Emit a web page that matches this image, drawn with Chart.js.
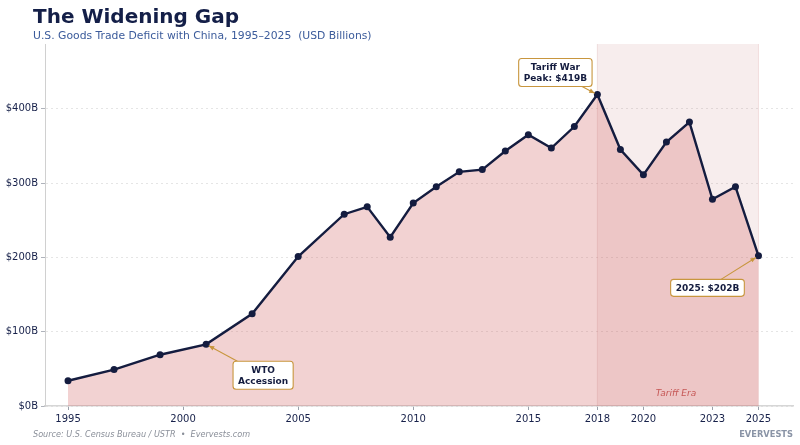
<!DOCTYPE html>
<html>
<head>
<meta charset="utf-8">
<script src="https://cdn.jsdelivr.net/npm/chart.js@4.4.1/dist/chart.umd.min.js"></script>
<style>
  html, body { margin: 0; padding: 0; background: #fff; }
  #wrap { width: 800px; height: 445px; }
</style>
</head>
<body>
<div id="wrap"><canvas id="gapChart"></canvas></div>
<script>
const years = [1995, 1997, 1999, 2001, 2003, 2005, 2007, 2008, 2009, 2010, 2011, 2012, 2013,
  2014, 2015, 2016, 2017, 2018, 2019, 2020, 2021, 2022, 2023, 2024, 2025];
const deficit = [34, 49, 69, 83, 124, 201, 258, 268, 227, 273, 295, 315, 318,
  343, 365, 347, 376, 419, 345, 311, 355, 382, 278, 295, 202];
const xTicks = [1995, 2000, 2005, 2010, 2015, 2018, 2020, 2023, 2025];
const yTicks = [0, 100, 200, 300, 400];
const tariffEra = [2018, 2025];

const NAVY = '#141c3f';
const GOLD = '#c8963e';
const FONT = '"DejaVu Sans", sans-serif';

// annotations: label lines, point year, box offset from the point
const notes = [
  { lines: ['Tariff War', 'Peak: $419B'], year: 2018, dx: -42, dy: -22 },
  { lines: ['WTO', 'Accession'], year: 2001, dx: 57, dy: 31 },
  { lines: ['2025: $202B'], year: 2025, dx: -51, dy: 32 }
];

function valueAt(year) {
  return deficit[years.indexOf(year)];
}

const decorations = {
  id: 'decorations',
  beforeDatasetsDraw(chart) {
    const { ctx, chartArea, scales } = chart;
    const x0 = scales.x.getPixelForValue(tariffEra[0]);
    const x1 = scales.x.getPixelForValue(tariffEra[1]);
    ctx.save();
    ctx.fillStyle = 'rgba(190,110,110,0.12)';
    ctx.fillRect(x0, chartArea.top, x1 - x0, chartArea.bottom - chartArea.top);
    ctx.strokeStyle = 'rgba(190,110,110,0.18)';
    ctx.lineWidth = 1;
    ctx.beginPath();
    ctx.moveTo(x0, chartArea.top); ctx.lineTo(x0, chartArea.bottom);
    ctx.moveTo(x1, chartArea.top); ctx.lineTo(x1, chartArea.bottom);
    ctx.stroke();
    ctx.fillStyle = '#c0504d';
    ctx.font = 'italic 9px ' + FONT;
    ctx.textAlign = 'center';
    ctx.textBaseline = 'alphabetic';
    ctx.fillText('Tariff Era', (x0 + x1) / 2 - 2, chartArea.bottom - 10);
    ctx.restore();
  },
  afterDraw(chart) {
    const { ctx, scales } = chart;
    ctx.save();
    // title block
    ctx.textAlign = 'left';
    ctx.textBaseline = 'alphabetic';
    ctx.fillStyle = '#141f48';
    ctx.font = 'bold 20px ' + FONT;
    ctx.fillText('The Widening Gap', 33, 23);
    ctx.fillStyle = '#3b5b9b';
    ctx.font = '10.8px ' + FONT;
    ctx.fillText('U.S. Goods Trade Deficit with China, 1995\u20132025  (USD Billions)', 33, 39);
    // footer
    ctx.fillStyle = '#8a8f99';
    ctx.font = 'italic 8.1px ' + FONT;
    ctx.fillText('Source: U.S. Census Bureau / USTR  \u2022  Evervests.com', 33, 437);
    ctx.textAlign = 'right';
    ctx.fillStyle = '#8a94a6';
    ctx.font = 'bold 8.3px ' + FONT;
    ctx.fillText('EVERVESTS', 793, 437);

    // annotations
    ctx.font = 'bold 9px ' + FONT;
    notes.forEach(n => {
      const px = scales.x.getPixelForValue(n.year);
      const py = scales.y.getPixelForValue(valueAt(n.year));
      const cx = px + n.dx, cy = py + n.dy;
      const lh = 11;
      const w = Math.max(...n.lines.map(l => ctx.measureText(l).width)) + 10;
      const h = n.lines.length * lh + 6;
      const bx = cx - w / 2, by = cy - h / 2;
      // arrow from box edge to point
      const ang = Math.atan2(py - cy, px - cx);
      const tx = (w / 2) / Math.abs(Math.cos(ang) || 1e-6);
      const ty = (h / 2) / Math.abs(Math.sin(ang) || 1e-6);
      const t = Math.min(tx, ty);
      const sx = cx + Math.cos(ang) * t, sy = cy + Math.sin(ang) * t;
      const ex = px - Math.cos(ang) * 3, ey = py - Math.sin(ang) * 3;
      ctx.strokeStyle = GOLD;
      ctx.fillStyle = GOLD;
      ctx.lineWidth = 1.1;
      ctx.beginPath();
      ctx.moveTo(sx, sy); ctx.lineTo(ex, ey);
      ctx.stroke();
      ctx.beginPath();
      ctx.moveTo(ex, ey);
      ctx.lineTo(ex - 6 * Math.cos(ang - 0.4), ey - 6 * Math.sin(ang - 0.4));
      ctx.lineTo(ex - 6 * Math.cos(ang + 0.4), ey - 6 * Math.sin(ang + 0.4));
      ctx.closePath();
      ctx.fill();
      // box
      ctx.beginPath();
      ctx.roundRect(bx, by, w, h, 3);
      ctx.fillStyle = '#ffffff';
      ctx.fill();
      ctx.lineWidth = 1.1;
      ctx.strokeStyle = GOLD;
      ctx.stroke();
      ctx.fillStyle = NAVY;
      ctx.textAlign = 'center';
      ctx.textBaseline = 'middle';
      n.lines.forEach((l, i) => {
        ctx.fillText(l, cx, by + 3 + lh * i + lh / 2 + 0.5);
      });
    });
    ctx.restore();
  }
};

const ctx = document.getElementById('gapChart').getContext('2d');
new Chart(ctx, {
  type: 'line',
  data: {
    datasets: [{
      label: 'Goods trade deficit',
      data: years.map((y, i) => ({ x: y, y: deficit[i] })),
      borderColor: NAVY,
      borderWidth: 2.4,
      backgroundColor: 'rgba(212,106,106,0.3)',
      fill: 'origin',
      tension: 0,
      pointRadius: 3.5,
      pointBackgroundColor: NAVY,
      pointBorderColor: NAVY,
      pointBorderWidth: 0
    }]
  },
  options: {
    responsive: true,
    maintainAspectRatio: false,
    animation: false,
    layout: { padding: { top: 44, right: 7, left: 0, bottom: 0 } },
    plugins: {
      legend: { display: false },
      title: { display: false },
      tooltip: { enabled: false }
    },
    scales: {
      x: {
        type: 'linear',
        min: 1994,
        max: 2026.5,
        afterBuildTicks: axis => { axis.ticks = xTicks.map(v => ({ value: v })); },
        afterFit: axis => { axis.height = 39; },
        ticks: {
          color: '#17214a',
          font: { family: FONT, size: 10 },
          padding: 3,
          maxRotation: 0,
          autoSkip: false,
          callback: v => String(v)
        },
        grid: { drawOnChartArea: false, drawTicks: true, tickLength: 4, tickColor: '#9aa0aa' },
        border: { color: '#d6d6d6', width: 1.5 }
      },
      y: {
        min: 0,
        max: 487,
        afterBuildTicks: axis => { axis.ticks = yTicks.map(v => ({ value: v })); },
        afterFit: axis => { axis.width = 45; },
        ticks: {
          color: '#17214a',
          font: { family: FONT, size: 10 },
          padding: 3,
          callback: v => '$' + v + 'B'
        },
        grid: { color: '#dedede', lineWidth: 0.8, drawTicks: true, tickLength: 4, tickColor: '#9aa0aa' },
        border: { color: '#d0d0d0', width: 1, dash: [2, 3] }
      }
    }
  },
  plugins: [decorations]
});
</script>
</body>
</html>
